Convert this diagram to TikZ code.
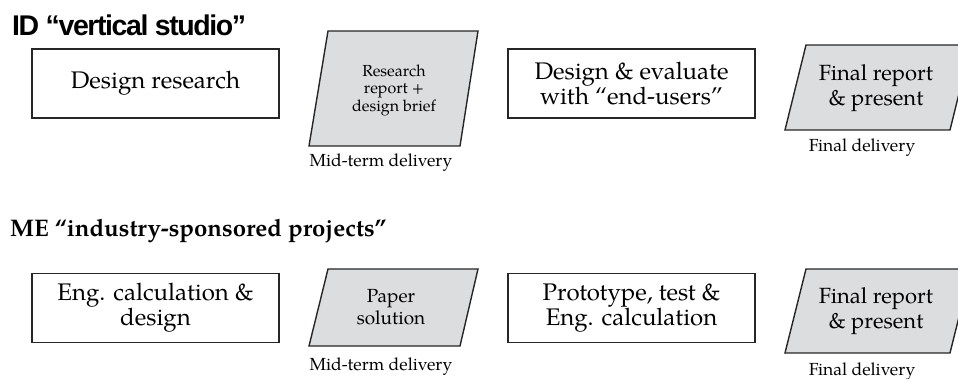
\documentclass[tikz,border=0pt]{standalone}
\usepackage{fontspec}
\setmainfont{texgyrepagella}[Extension=.otf, UprightFont=*-regular, BoldFont=*-bold, ItalicFont=*-italic, BoldItalicFont=*-bolditalic]
\newfontfamily\titlesans{Liberation Sans}[LetterSpace=-5]
\definecolor{datagray}{RGB}{220,221,223}
\tikzset{
  procbox/.style={draw=black!85, line width=1.4pt, minimum width=247pt, minimum height=69pt, inner sep=0pt, align=center, font=\fontsize{24}{23.5}\selectfont},
  databox/.style={draw=black!85, line width=1.4pt, fill=datagray, line join=miter},
  datatext/.style={align=center, inner sep=0pt},
  smalltext/.style={font=\fontsize{16}{17.5}\selectfont},
  midtext/.style={font=\fontsize{19}{22}\selectfont},
  bigtext/.style={font=\fontsize{22}{24.5}\selectfont},
  labeltext/.style={font=\fontsize{17.5}{20}\selectfont, inner sep=0pt},
  titletext/.style={anchor=base west, inner sep=0pt}
}
\begin{document}
\begin{tikzpicture}[x=1pt,y=-1pt]
\useasboundingbox (0,0) rectangle (958,379);
\clip (0,0) rectangle (958,379);
% titles
\node[titletext, font=\titlesans\bfseries\fontsize{28.5}{30}\selectfont] (t1) at (12,35.5) {ID “vertical studio”};
\node[titletext, font=\bfseries\fontsize{24}{26}\selectfont] (t2) at (10,237) {ME “industry-sponsored projects”};
% top row
\node[procbox] (dr) at (155.5,83.5) {Design research};
\coordinate (pa1) at (328,31); \coordinate (pa2) at (478,31);
\coordinate (pa3) at (460,146); \coordinate (pa4) at (309,146);
\draw[databox] (pa1) -- (pa2) -- (pa3) -- (pa4) -- cycle;
\node[datatext, smalltext] (rr) at (394,90) {Research\\report +\\design brief};
\node[labeltext] (mt1) at (381,163) {Mid-term delivery};
\node[procbox] (de) at (631.5,83.5) {Design \& evaluate\\with “end-users”};
\coordinate (pc1) at (806,45); \coordinate (pc2) at (971,45);
\coordinate (pc3) at (950,130); \coordinate (pc4) at (785,130);
\draw[databox] (pc1) -- (pc2) -- (pc3) -- (pc4) -- cycle;
\node[datatext, bigtext] (fr1) at (876,88) {Final report\\\& present};
\node[labeltext] (fd1) at (862,148) {Final delivery};
% bottom row
\node[procbox] (ec) at (155.5,308) {Eng. calculation \&\\design};
\coordinate (pb1) at (328,269); \coordinate (pb2) at (478,269);
\coordinate (pb3) at (460,346); \coordinate (pb4) at (309,346);
\draw[databox] (pb1) -- (pb2) -- (pb3) -- (pb4) -- cycle;
\node[datatext, midtext] (ps) at (391,307) {Paper\\solution};
\node[labeltext] (mt2) at (381,367) {Mid-term delivery};
\node[procbox] (pt) at (631.5,308) {Prototype, test \&\\Eng. calculation};
\coordinate (pd1) at (806,269); \coordinate (pd2) at (971,269);
\coordinate (pd3) at (950,353); \coordinate (pd4) at (785,353);
\draw[databox] (pd1) -- (pd2) -- (pd3) -- (pd4) -- cycle;
\node[datatext, bigtext] (fr2) at (876,311) {Final report\\\& present};
\node[labeltext] (fd2) at (862,372) {Final delivery};
\end{tikzpicture}
\end{document}
